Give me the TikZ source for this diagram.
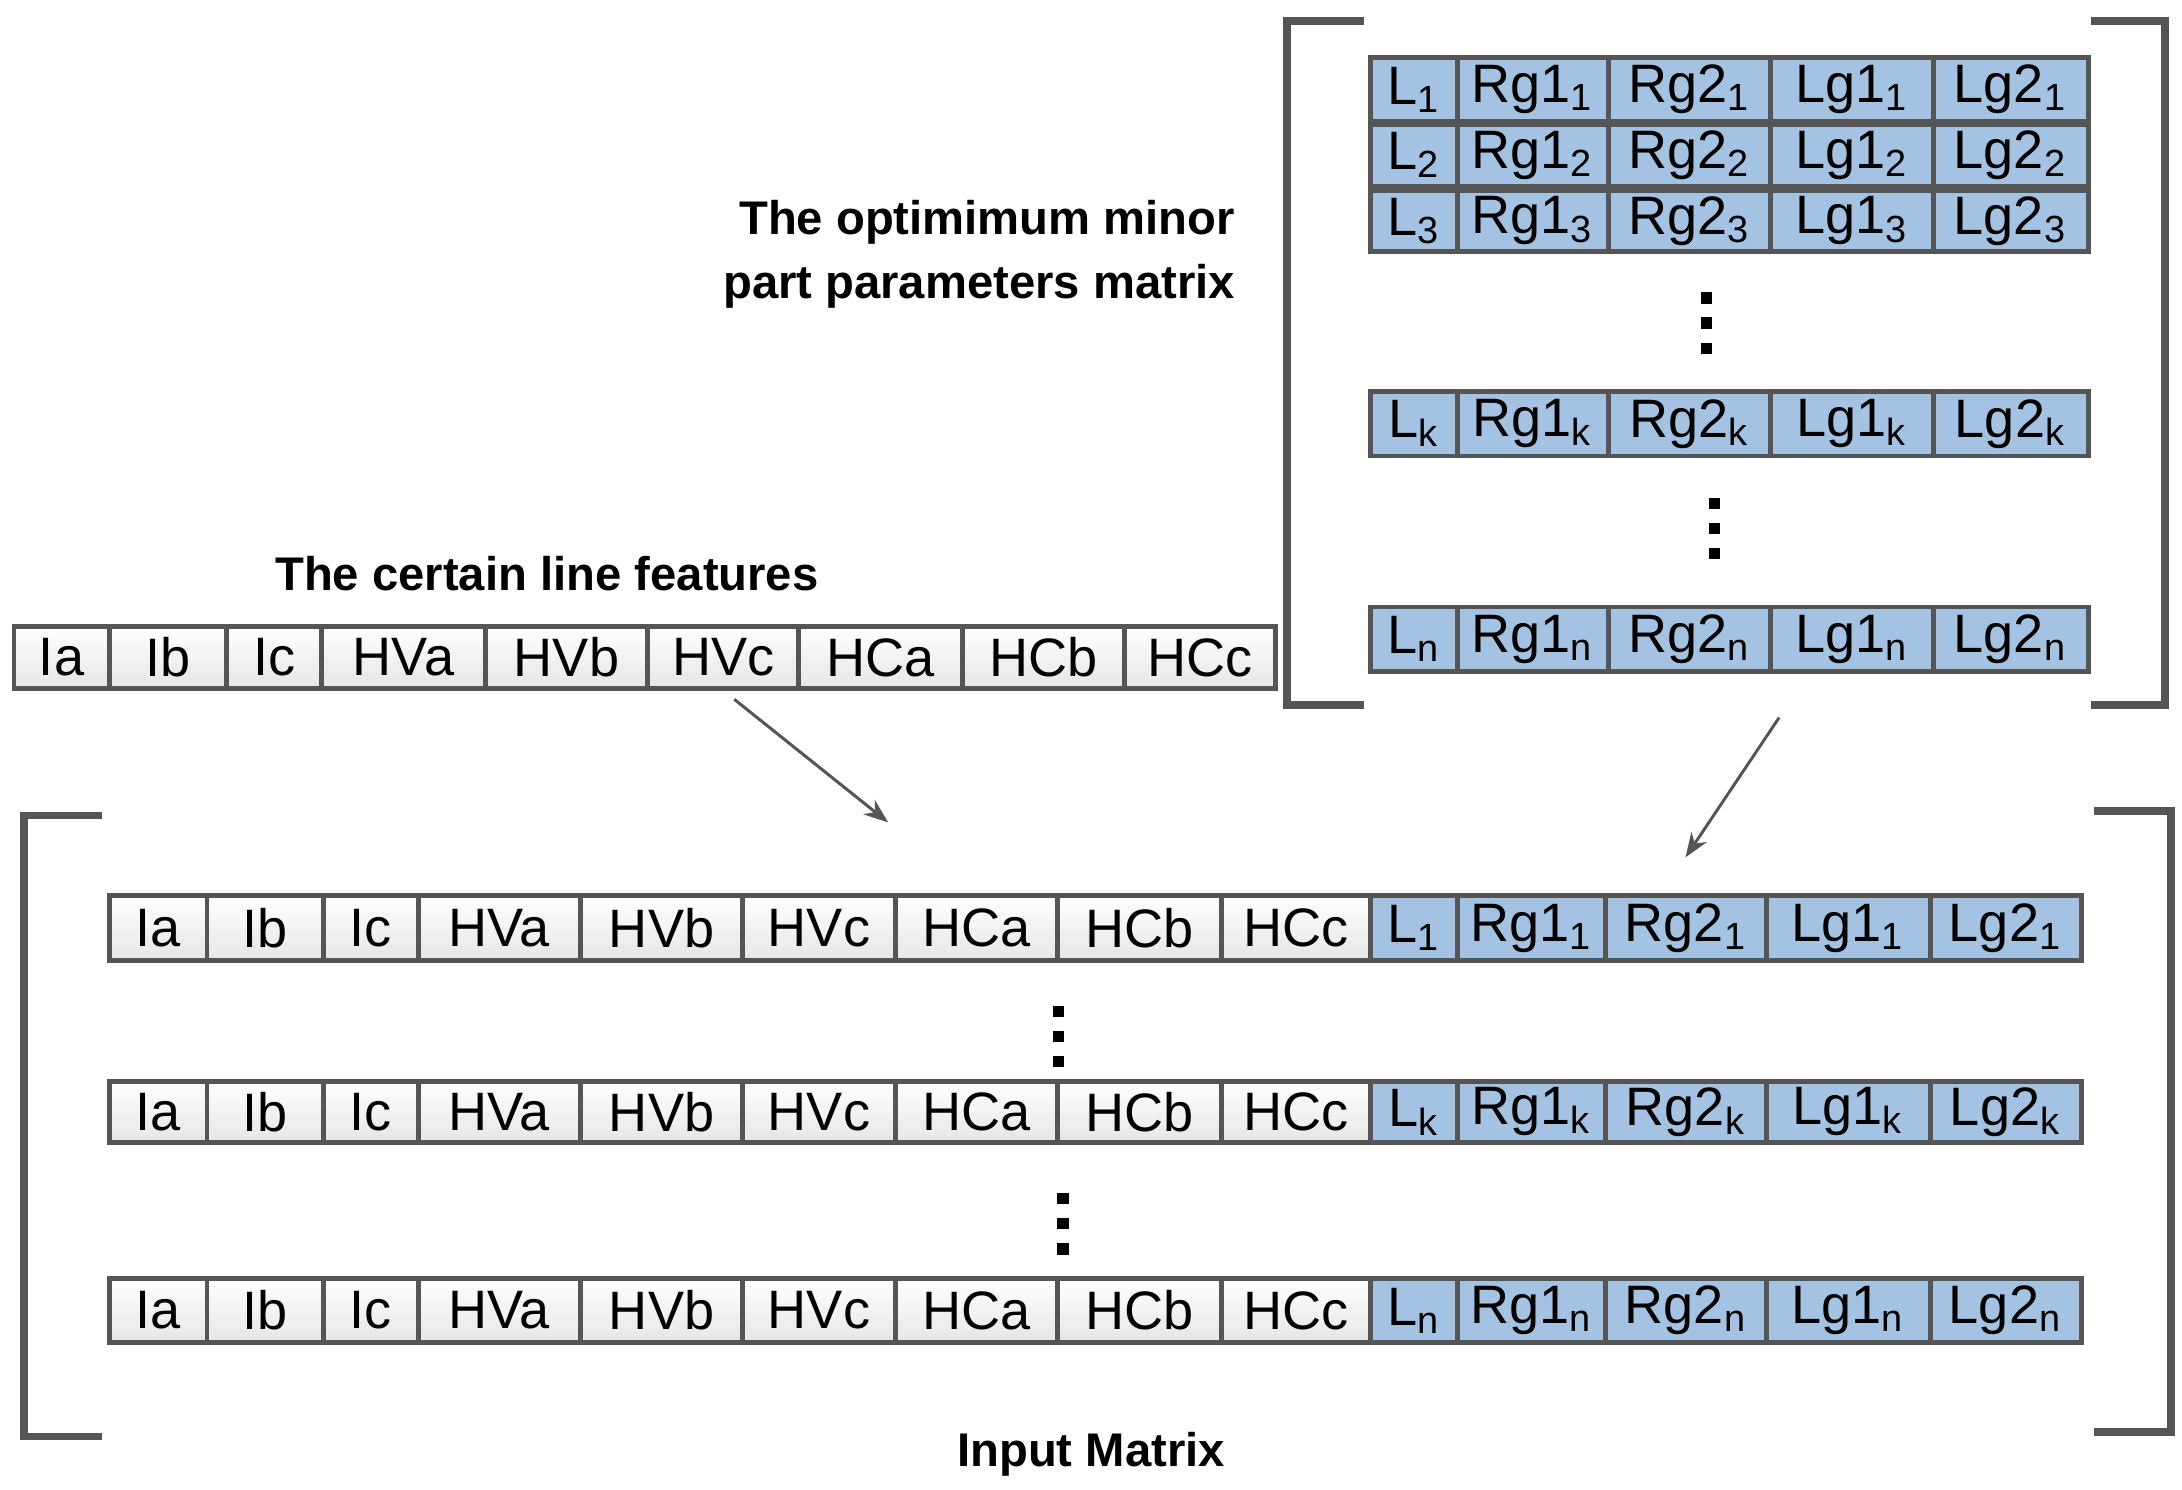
\documentclass[tikz,border=0pt]{standalone}
\usepackage{fontspec}
\setmainfont{Liberation Sans}
\usetikzlibrary{arrows.meta}
\definecolor{edge}{HTML}{555555}
\definecolor{cellblue}{HTML}{A4C2E2}
\tikzset{
  cell/.style={draw=edge, line width=1pt, inner sep=0pt, font=\fontsize{11}{13}\selectfont},
  gcell/.style={cell, top color=white, bottom color=black!10},
  bcell/.style={cell, fill=cellblue},
  bracket/.style={draw=edge, line width=1.6pt},
  title/.style={font=\fontsize{9.6}{13}\selectfont\bfseries, align=right},
  feed/.style={draw=edge, line width=0.6pt, -{Stealth[length=5pt]}}
}
\def\featlist{10/78/Ia,78/162/Ib,162/230/Ic,230/347/HVa,347/463/HVb,463/571/HVc,571/688/HCa,688/804/HCb,804/912/HCc}
\def\inlist{78/148/Ia,148/231/Ib,231/299/Ic,299/415/HVa,415/531/HVb,531/640/HVc,640/756/HCa,756/873/HCb,873/980/HCc}
\def\toplist{980/1042/L,1042/1150/Rg1,1150/1266/Rg2,1266/1382/Lg1,1382/1493/Lg2}
\def\botlist{980/1042/L,1042/1148/Rg1,1148/1263/Rg2,1263/1380/Lg1,1380/1488/Lg2}
% grey feature row: name, y top, y bottom, list
\newcommand{\featrow}[4]{%
  \foreach \xa/\xb/\t [count=\i] in #4
    \node[gcell, minimum width={(\xb-\xa)*0.01cm}, minimum height={(#3-#2)*0.01cm}]
      (#1-\i) at ({(\xa+\xb)/2},{(#2+#3)/2}) {\t};}
% blue parameter row: name, y top, y bottom, subscript, list
\newcommand{\parrow}[5]{%
  \foreach \xa/\xb/\t [count=\i] in #5
    \node[bcell, minimum width={(\xb-\xa)*0.01cm}, minimum height={(#3-#2)*0.01cm}]
      (#1-\i) at ({(\xa+\xb)/2},{(#2+#3)/2}) {\t\textsubscript{#4}};}
\newcommand{\vdotcol}[2]{%
  \foreach \d in {-18,0,18}
    \fill ({#1-4},{#2+\d-4}) rectangle ({#1+4},{#2+\d+4});}
\begin{document}
\begin{tikzpicture}[x=0.01cm, y=-0.01cm]
\useasboundingbox (0,0) rectangle (1560,1065);

% optimum parameters matrix
\parrow{p1}{41}{87}{1}{\toplist}
\parrow{p2}{89}{133}{2}{\toplist}
\parrow{p3}{136}{180}{3}{\toplist}
\parrow{pk}{280}{326}{k}{\toplist}
\parrow{pn}{434}{480}{n}{\toplist}
\vdotcol{1220}{231}
\vdotcol{1226}{378}
\draw[bracket] (975,15) -- (920,15) -- (920,504) -- (975,504);
\draw[bracket] (1495,15) -- (1548,15) -- (1548,504) -- (1495,504);
\node[title] (ptitle) at (700,182) {The optimimum minor\\part parameters matrix};

% line features
\featrow{f}{448}{492}{\featlist}
\node[title] (ftitle) at (391,410) {The certain line features};

% input matrix
\featrow{a}{640}{687}{\inlist}
\parrow{b}{640}{687}{1}{\botlist}
\featrow{c}{773}{817}{\inlist}
\parrow{d}{773}{817}{k}{\botlist}
\featrow{e}{914}{960}{\inlist}
\parrow{g}{914}{960}{n}{\botlist}
\vdotcol{757}{741}
\vdotcol{760}{875}
\draw[bracket] (73,583) -- (17,583) -- (17,1027) -- (73,1027);
\draw[bracket] (1497,580) -- (1552,580) -- (1552,1024) -- (1497,1024);
\node[title] (ititle) at (780,1040) {Input Matrix};

% feeding arrows
\coordinate (fa) at (525,500);
\coordinate (fb) at (635,588);
\coordinate (pa) at (1272,513);
\coordinate (pb) at (1205,613);
\draw[feed] (fa) -- (fb);
\draw[feed] (pa) -- (pb);
\end{tikzpicture}
\end{document}
